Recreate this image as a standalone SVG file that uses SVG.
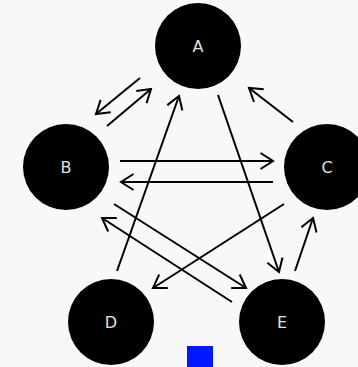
<svg xmlns="http://www.w3.org/2000/svg" width="358" height="367" viewBox="0 0 358 367">
<style>
.node{fill:#000}
.lbl{font-family:"DejaVu Sans",sans-serif;font-size:16px;fill:#e0e0e0;text-anchor:middle;dominant-baseline:central}
.edge{stroke:#000;stroke-width:2;fill:none;marker-end:url(#ah)}
</style>
<defs>
<marker id="ah" markerUnits="userSpaceOnUse" markerWidth="16" markerHeight="20" refX="14" refY="10" orient="auto" overflow="visible">
<path d="M1.5,2 L14,10 L1.5,18" fill="none" stroke="#000" stroke-width="2"/>
</marker>
</defs>
<rect width="358" height="367" fill="#f8f8f8"/>
<g id="connectors">
<line class="edge" x1="140" y1="78" x2="96" y2="114"/>
<line class="edge" x1="107" y1="126" x2="151" y2="89"/>
<line class="edge" x1="117" y1="271" x2="179" y2="96"/>
<line class="edge" x1="218" y1="95" x2="279" y2="272"/>
<line class="edge" x1="293" y1="122" x2="249" y2="88"/>
<line class="edge" x1="120" y1="161" x2="273" y2="161"/>
<line class="edge" x1="273" y1="182" x2="121" y2="182"/>
<line class="edge" x1="114" y1="204" x2="246" y2="288"/>
<line class="edge" x1="232" y1="302" x2="102" y2="218"/>
<line class="edge" x1="284" y1="204" x2="153" y2="288"/>
<line class="edge" x1="295" y1="271" x2="313" y2="218"/>
</g>
<g id="A"><circle class="node" cx="198" cy="46" r="43"/><text class="lbl" x="198" y="46">A</text></g>
<g id="B"><circle class="node" cx="66" cy="167" r="43"/><text class="lbl" x="66" y="167">B</text></g>
<g id="C"><circle class="node" cx="327" cy="167" r="43"/><text class="lbl" x="327" y="167">C</text></g>
<g id="D"><circle class="node" cx="111" cy="322" r="43"/><text class="lbl" x="111" y="322">D</text></g>
<g id="E"><circle class="node" cx="282" cy="322" r="43"/><text class="lbl" x="282" y="322">E</text></g>
<rect x="187" y="346" width="26" height="26" fill="#0018ff"/>
</svg>
